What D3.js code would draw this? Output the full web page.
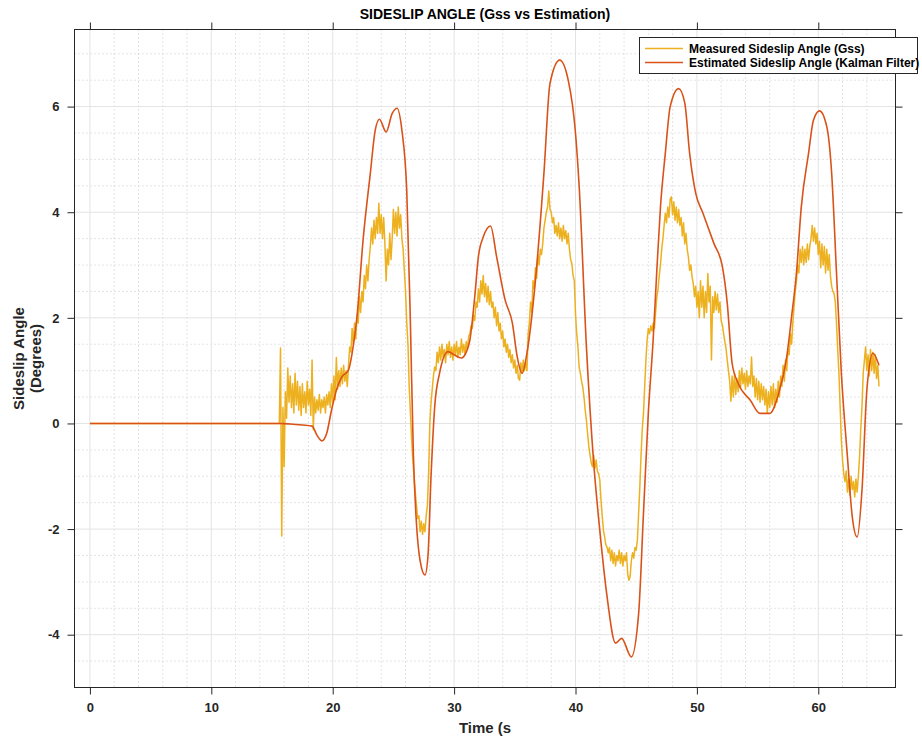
<!DOCTYPE html>
<html>
<head>
<meta charset="utf-8">
<script src="https://cdn.jsdelivr.net/npm/d3@7"></script>
<style>
  html, body { margin: 0; padding: 0; background: #fff; }
  svg { display: block; font-family: "Liberation Sans", Arial, Helvetica, sans-serif; }
</style>
</head>
<body>
<svg id="chart" width="922" height="740"></svg>
<script>
// ---- Data -------------------------------------------------------------
const chartTitle = "SIDESLIP ANGLE (Gss vs Estimation)";
const xLabel = "Time (s";
const yLabelLines = ["Sideslip Angle", "(Degrees)"];
const seriesNames = ["Measured Sideslip Angle (Gss)", "Estimated Sideslip Angle (Kalman Filter)"];

const xTicks = [0, 10, 20, 30, 40, 50, 60];
const yTicks = [-4, -2, 0, 2, 4, 6];
const xMinorTicks = d3.range(-0, 66, 2);
const yMinorTicks = d3.range(-5, 7.5, 0.5);

// Measured signal: zero until the sensor comes on, then sampled every 0.1 s
const measuredIdle = [[0, 0], [15.6, 0]];
const measuredStart = 15.6;
const measuredStep = 0.1;
const measuredValues = [
  0, 1.43, -2.13, 0.3, -0.82, 0.6, 0.1, 1.05, 0.4, 0.9,
  0.3, 0.75, 0.2, 0.95, 0.35, 0.8, 0.25, 0.7, 0.15, 0.75,
  0.3, 0.6, 0.2, 0.8, 0.35, 0.65, 0.15, 1.2, -0.12, 0.5,
  0.2, 0.45, 0.25, 0.55, 0.2, 0.45, 0.3, 0.5, 0.2, 0.55,
  0.35, 0.6, 0.3, 0.75, 0.4, 0.9, 0.45, 1.25, 0.65, 1.0,
  0.7, 1.05, 0.75, 1.1, 0.8, 1.0, 0.7, 1.1, 1.45, 1.35,
  1.8, 1.5, 1.9, 1.6, 2.05, 1.9, 2.4, 2.1, 2.5, 2.3,
  2.8, 2.55, 3.0, 2.7, 3.1, 3.35, 3.7, 3.4, 3.85, 3.5,
  3.9, 3.6, 4.17, 3.6, 3.95, 3.5, 3.9, 3.4, 2.7, 3.3,
  3.0, 3.6, 3.1, 3.5, 4.05, 3.6, 4.0, 3.55, 4.1, 3.7,
  3.95, 3.5, 3.3, 2.9, 2.5, 1.9, 1.5, 0.7, 0.2, -0.3,
  -0.69, -1.0, -1.3, -1.55, -1.8, -1.75, -2.05, -1.85, -2.1, -1.9,
  -2.05, -1.75, -1.55, -0.94, 0.0, 0.4, 0.65, 0.9, 1.07, 1.0,
  1.35, 1.15, 1.45, 1.2, 1.5, 1.25, 1.4, 1.15, 1.5, 1.3,
  1.55, 1.25, 1.45, 1.2, 1.5, 1.3, 1.55, 1.25, 1.45, 1.3,
  1.6, 1.35, 1.5, 1.3, 1.55, 1.4, 1.65, 1.7, 1.85, 1.8,
  2.05, 1.95, 2.3, 2.2, 2.55, 2.3, 2.7, 2.45, 2.8, 2.4,
  2.65, 2.3, 2.6, 2.25, 2.5, 2.2, 2.3, 2.0, 2.2, 1.85,
  2.1, 1.75, 1.9, 1.6, 1.75, 1.45, 1.6, 1.35, 1.5, 1.25,
  1.4, 1.15, 1.3, 1.05, 1.2, 0.95, 1.1, 0.85, 0.82, 1.15,
  0.95, 1.2, 1.0, 1.15, 1.0, 1.7, 1.9, 2.3, 2.1, 2.7,
  2.55, 2.95, 2.75, 3.2, 3.0, 3.3, 3.2, 3.4, 3.7, 3.85,
  4.0, 4.1, 4.4, 4.05, 4.0, 3.8, 3.9, 3.6, 3.75, 3.55,
  3.8, 3.5, 3.7, 3.45, 3.75, 3.5, 3.65, 3.4, 3.6, 3.3,
  3.1, 3.03, 2.8, 2.71, 2.08, 1.7, 1.45, 1.07, 0.95, 0.8,
  0.69, 0.5, 0.25, 0.06, -0.2, -0.44, -0.6, -0.75, -0.82, -0.6,
  -0.85, -0.69, -0.9, -0.95, -1.07, -1.45, -1.75, -2.02, -2.15, -2.3,
  -2.34, -2.45, -2.35, -2.6, -2.4, -2.65, -2.45, -2.7, -2.5, -2.6,
  -2.4, -2.65, -2.45, -2.7, -2.5, -2.6, -2.45, -2.85, -2.97, -2.9,
  -2.6, -2.45, -2.55, -2.35, -2.4, -2.2, -1.7, -1.2, -0.6, -0.1,
  0.19, 0.7, 1.2, 1.58, 1.8, 1.7, 1.85, 1.75, 1.9, 1.8,
  2.1, 2.4, 2.55, 2.8, 3.0, 3.3, 3.5, 3.75, 3.98, 3.8,
  4.1, 3.9, 4.25, 4.29, 3.95, 4.2, 3.85, 4.1, 3.8, 4.05,
  3.75, 3.9, 3.55, 3.8, 3.4, 3.6, 3.3, 3.15, 2.9, 3.0,
  2.78, 2.65, 2.4, 2.6, 2.2, 2.5, 2.0, 2.7, 2.2, 2.6,
  2.0, 2.5, 2.1, 2.84, 2.3, 2.6, 1.2, 2.4, 2.1, 2.5,
  2.15, 2.45, 2.1, 2.3, 1.95, 1.86, 1.7, 1.55, 1.42, 1.2,
  1.0, 0.8, 0.42, 0.9, 0.5, 0.95, 0.55, 0.85, 0.6, 1.0,
  0.7, 1.05, 0.75, 0.95, 0.65, 1.0, 0.7, 0.9, 0.75, 1.26,
  0.7, 0.9, 0.5, 0.85, 0.45, 0.8, 0.4, 0.75, 0.45, 0.7,
  0.35, 0.65, 0.2, 0.6, 0.3, 0.7, 0.35, 0.75, 0.3, 0.65,
  0.4, 0.8, 0.5, 0.9, 0.7, 1.1, 0.8, 1.2, 1.0, 1.4,
  1.3, 1.7, 1.5, 1.9, 2.2, 2.5, 2.7, 3.0, 2.85, 3.3,
  3.05, 3.35, 3.0, 3.3, 3.05, 3.4, 3.1, 3.35, 3.5, 3.75,
  3.45, 3.7, 3.4, 3.6, 3.2, 3.45, 2.95, 3.4, 3.0, 3.35,
  2.85, 3.3, 2.9, 3.2, 2.8, 2.6, 2.5, 2.46, 2.3, 1.9,
  1.4, 0.95, 0.32, -0.32, -0.7, -0.95, -1.1, -0.9, -1.3, -1.05,
  -1.35, -1.0, -1.25, -1.1, -1.39, -1.05, -1.3, -1.0, -0.63, -0.1,
  0.32, 0.95, 1.2, 1.45, 1.0, 1.3, 0.9, 1.4, 1.0, 1.35,
  0.95, 1.3, 0.85, 1.1, 0.7
];

// Kalman filter estimate: [time (s), angle (deg)]
const estimatedBeta = [
  [0, 0], [15.7, 0], [16.5, -0.01], [17.5, -0.03], [18.3, -0.05],
  [18.7, -0.22], [19.1, -0.33], [19.5, -0.19], [19.9, 0.25], [20.3, 0.63],
  [20.75, 0.88], [21.3, 1.01], [21.6, 1.33], [22.0, 2.02], [22.5, 3.47],
  [23.1, 4.74], [23.5, 5.55], [23.85, 5.76], [24.4, 5.52], [24.9, 5.87],
  [25.3, 5.97], [25.7, 5.55], [26.1, 4.4], [26.4, 1.9], [26.65, -0.63],
  [26.9, -1.9], [27.2, -2.6], [27.6, -2.87], [27.85, -2.5], [28.1, -1.0],
  [28.4, 0.31], [28.8, 0.95], [29.5, 1.36], [30.0, 1.3], [30.6, 1.24],
  [31.0, 1.35], [31.3, 1.58], [31.7, 2.4], [32.0, 3.16], [32.4, 3.53],
  [33.0, 3.74], [33.5, 3.16], [34.2, 2.34], [34.8, 1.9], [35.2, 1.26],
  [35.6, 0.95], [36.0, 1.33], [36.7, 2.71], [37.4, 4.74], [37.9, 6.44],
  [38.7, 6.88], [39.4, 6.5], [40.0, 5.5], [40.3, 4.5], [40.9, 1.45],
  [41.5, -0.75], [42.0, -2.02], [42.6, -3.28], [43.3, -4.16], [43.8, -4.07],
  [44.6, -4.42], [45.2, -3.6], [45.6, -1.7], [46.0, 0.2], [46.4, 1.6],
  [46.7, 2.9], [47.0, 4.1], [47.4, 5.12], [47.8, 6.0], [48.5, 6.34],
  [49.0, 6.07], [49.4, 5.12], [49.9, 4.36], [50.5, 3.98], [51.4, 3.41],
  [52.1, 2.97], [52.5, 2.28], [52.9, 1.14], [53.4, 0.76], [54.4, 0.44],
  [55.2, 0.19], [56.0, 0.19], [56.7, 0.54], [57.4, 1.26], [57.8, 2.02],
  [58.2, 2.85], [58.6, 4.1], [59.2, 5.12], [59.6, 5.74], [60.1, 5.92],
  [60.7, 5.62], [61.1, 4.74], [61.5, 2.85], [61.9, 0.95], [62.4, -0.63],
  [62.8, -1.77], [63.2, -2.15], [63.6, -1.26], [64.0, 0.63], [64.5, 1.33],
  [65.0, 1.1]
];

const colors = ["#EDB120", "#D95319"];

// ---- Layout -----------------------------------------------------------
const svg = d3.select("#chart");
const plot = { left: 74.5, right: 895.5, top: 29.5, bottom: 687.5 };
const axisColor = "#262626";
const plainNumber = d => String(d);   // keeps the ASCII hyphen on negatives

const x = d3.scaleLinear().domain([-1.27, 66.36]).range([plot.left, plot.right]);
const y = d3.scaleLinear().domain([-5, 7.46]).range([plot.bottom, plot.top]);

const measured = measuredIdle.concat(
  measuredValues.map((v, i) => [measuredStart + i * measuredStep, v])
);

// Clip region for the data lines
svg.append("defs").append("clipPath").attr("id", "plotClip")
  .append("rect")
  .attr("x", plot.left).attr("y", plot.top)
  .attr("width", plot.right - plot.left).attr("height", plot.bottom - plot.top);

// ---- Grid -------------------------------------------------------------
const grid = svg.append("g");
grid.selectAll(".xminor").data(xMinorTicks.filter(d => !xTicks.includes(d)))
  .join("line")
  .attr("x1", d => x(d)).attr("x2", d => x(d))
  .attr("y1", plot.top).attr("y2", plot.bottom)
  .attr("stroke", "#c8c8c8").attr("stroke-width", 1).attr("stroke-dasharray", "1,3");
grid.selectAll(".yminor").data(yMinorTicks.filter(d => !yTicks.includes(d)))
  .join("line")
  .attr("x1", plot.left).attr("x2", plot.right)
  .attr("y1", d => y(d)).attr("y2", d => y(d))
  .attr("stroke", "#c8c8c8").attr("stroke-width", 1).attr("stroke-dasharray", "1,3");
grid.selectAll(".xmajor").data(xTicks).join("line")
  .attr("x1", d => x(d)).attr("x2", d => x(d))
  .attr("y1", plot.top).attr("y2", plot.bottom)
  .attr("stroke", "#e3e3e3").attr("stroke-width", 1);
grid.selectAll(".ymajor").data(yTicks).join("line")
  .attr("x1", plot.left).attr("x2", plot.right)
  .attr("y1", d => y(d)).attr("y2", d => y(d))
  .attr("stroke", "#e3e3e3").attr("stroke-width", 1);

// ---- Series -----------------------------------------------------------
const lines = svg.append("g").attr("clip-path", "url(#plotClip)");
lines.append("path")
  .datum(measured)
  .attr("fill", "none")
  .attr("stroke", colors[0])
  .attr("stroke-width", 1.5)
  .attr("stroke-linejoin", "round")
  .attr("d", d3.line().x(d => x(d[0])).y(d => y(d[1])));

lines.append("path")
  .datum(estimatedBeta)
  .attr("fill", "none")
  .attr("stroke", colors[1])
  .attr("stroke-width", 1.6)
  .attr("d", d3.line().x(d => x(d[0])).y(d => y(d[1])).curve(d3.curveMonotoneX));

// ---- Axes (box with outward ticks on all four sides) -------------------
function styleAxis(g) {
  g.select(".domain").remove();
  g.selectAll(".tick line").attr("stroke", axisColor).attr("stroke-width", 1);
  g.selectAll(".tick text")
    .attr("fill", axisColor)
    .style("font-size", "13px")
    .style("font-weight", "bold");
}

svg.append("g")
  .attr("transform", `translate(0,${plot.bottom})`)
  .call(d3.axisBottom(x).tickValues(xTicks).tickSize(7).tickPadding(8).tickFormat(plainNumber))
  .call(styleAxis);
svg.append("g")
  .attr("transform", `translate(0,${plot.top})`)
  .call(d3.axisTop(x).tickValues(xTicks).tickSize(7).tickFormat(""))
  .call(styleAxis);
svg.append("g")
  .attr("transform", `translate(${plot.left},0)`)
  .call(d3.axisLeft(y).tickValues(yTicks).tickSize(7).tickPadding(8).tickFormat(plainNumber))
  .call(styleAxis);
svg.append("g")
  .attr("transform", `translate(${plot.right},0)`)
  .call(d3.axisRight(y).tickValues(yTicks).tickSize(7).tickFormat(""))
  .call(styleAxis);

svg.append("rect")
  .attr("x", plot.left).attr("y", plot.top)
  .attr("width", plot.right - plot.left).attr("height", plot.bottom - plot.top)
  .attr("fill", "none").attr("stroke", axisColor).attr("stroke-width", 1);

// ---- Titles -----------------------------------------------------------
const cx = (plot.left + plot.right) / 2;
svg.append("text")
  .attr("x", cx).attr("y", 19)
  .attr("text-anchor", "middle")
  .attr("fill", "#000")
  .style("font-size", "14px").style("font-weight", "bold")
  .text(chartTitle);

svg.append("text")
  .attr("x", cx).attr("y", 733)
  .attr("text-anchor", "middle")
  .attr("fill", axisColor)
  .style("font-size", "15px").style("font-weight", "bold")
  .text(xLabel);

const yl = svg.append("text")
  .attr("transform", `translate(24,${(plot.top + plot.bottom) / 2}) rotate(-90)`)
  .attr("text-anchor", "middle")
  .attr("fill", axisColor)
  .style("font-size", "15px").style("font-weight", "bold");
yLabelLines.forEach((t, i) => {
  yl.append("tspan").attr("x", 0).attr("dy", i === 0 ? 0 : 17).text(t);
});

// ---- Legend -----------------------------------------------------------
const legend = svg.append("g");
legend.append("rect")
  .attr("x", 639.5).attr("y", 37.5).attr("width", 278).attr("height", 36)
  .attr("fill", "#fff").attr("stroke", axisColor).attr("stroke-width", 1);
seriesNames.forEach((name, i) => {
  const ly = 48.5 + i * 14;
  legend.append("line")
    .attr("x1", 645).attr("x2", 683).attr("y1", ly).attr("y2", ly)
    .attr("stroke", colors[i]).attr("stroke-width", 1.5);
  legend.append("text")
    .attr("x", 689).attr("y", ly + 4.2)
    .attr("fill", "#000")
    .style("font-size", "12px").style("font-weight", "bold")
    .text(name);
});
</script>
</body>
</html>
